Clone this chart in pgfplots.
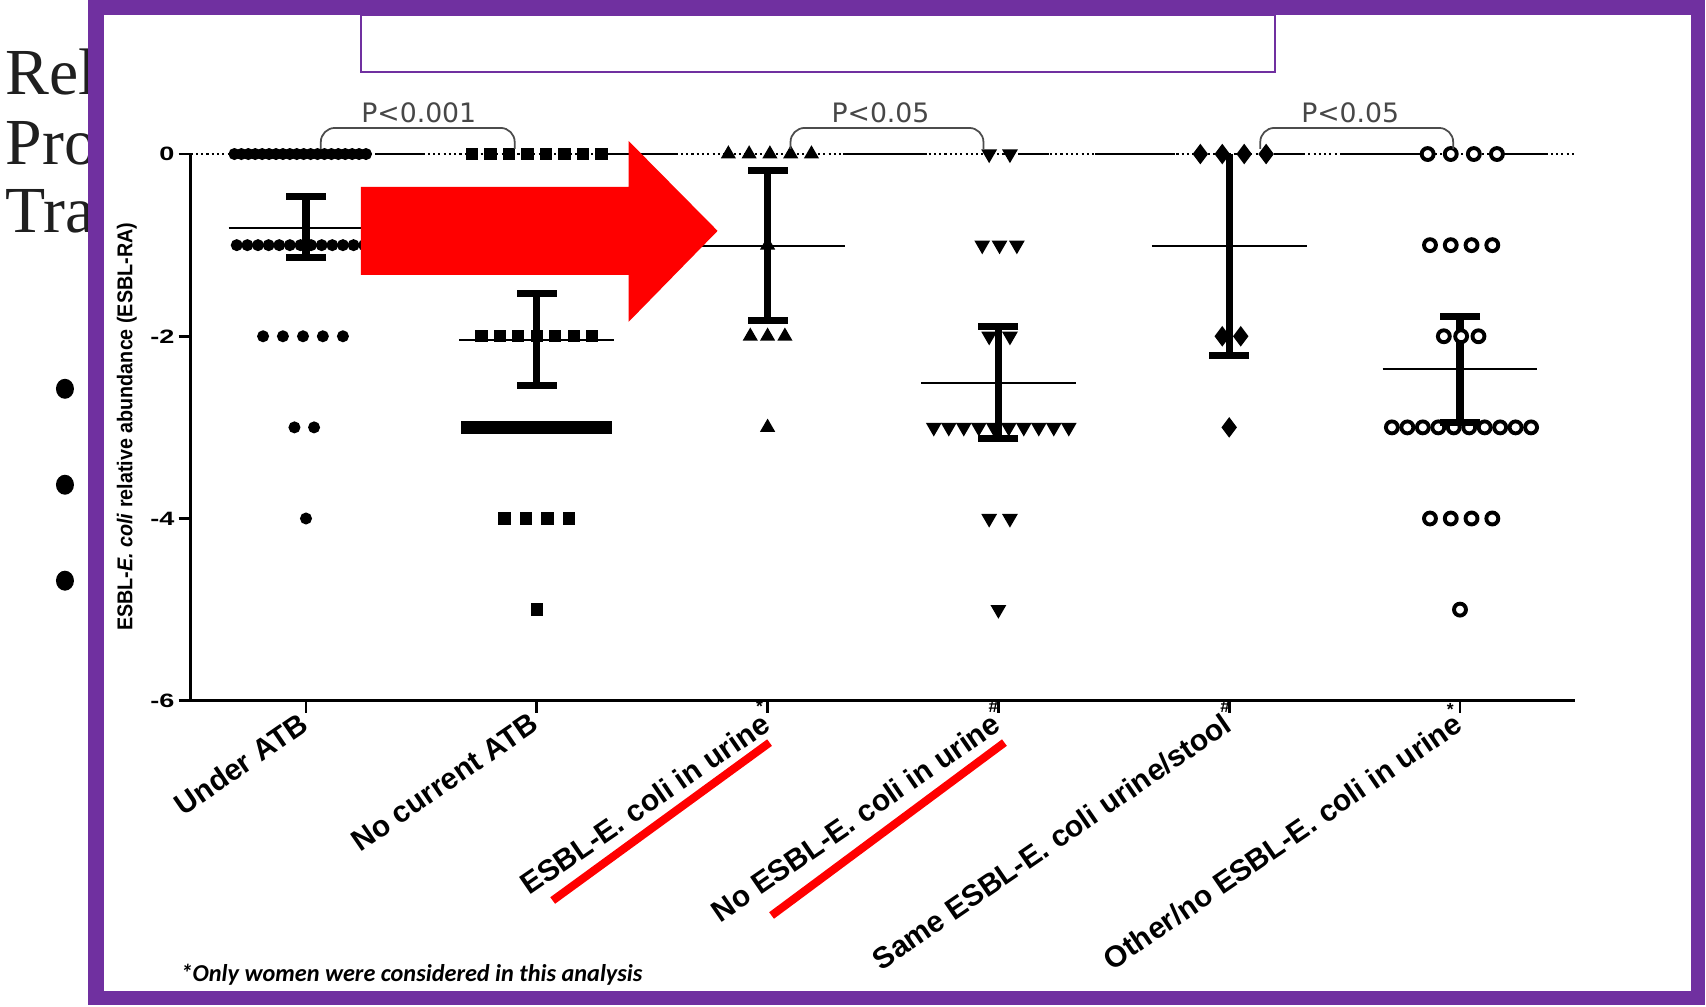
\documentclass[border=0pt]{standalone}
\usepackage{pgfplots}
\pgfplotsset{compat=1.18}
\usepackage{fontspec}
\setmainfont{Liberation Sans}
\newfontfamily\seriffont{Liberation Serif}
\newfontfamily\dvs{DejaVu Sans}
\newfontfamily\carlito{Carlito}
\definecolor{framepurple}{RGB}{112,48,160}
\definecolor{arrowred}{RGB}{255,0,0}
\newcommand\fs[1]{\fontsize{#1}{#1}\selectfont}
\newcommand\tl[1]{\scalebox{1.4}[1]{\bfseries\fs{5.5}#1}}
\begin{document}
\begin{tikzpicture}
\begin{scope}[x=0.01cm,y=-0.01cm]
\fill[white] (0,0) rectangle (1706,1006);
\node[anchor=base west, inner sep=0, font=\seriffont\fs{18.7}, text=black!88] at (5,95) {Rel};
\node[anchor=base west, inner sep=0, font=\seriffont\fs{18.7}, text=black!88] at (5,165) {Pro};
\node[anchor=base west, inner sep=0, font=\seriffont\fs{18.7}, text=black!88] at (5,233) {Tra};
\fill[black] (65,389) ellipse [x radius=9, y radius=10];
\fill[black] (65,485) ellipse [x radius=9, y radius=10];
\fill[black] (65,581) ellipse [x radius=9, y radius=10];
\fill[framepurple] (88,0) rectangle (1706,1006);
\fill[white] (104,15) rectangle (1692,992);
\node[rotate=90, font=\fs{6.1}] at (127,427) {\scalebox{0.92}[1]{\bfseries ESBL-\textit{E. coli} relative abundance (ESBL-RA)}};
\end{scope}

\begin{axis}[
  at={(1.906cm,-7.007cm)}, anchor=south west,
  scale only axis, width=13.848cm, height=5.467cm,
  xmin=-0.5, xmax=5.5, ymin=-6, ymax=0,
  clip=false,
  axis lines=left, axis line style={-, line width=0.85pt},
  tick align=outside, major tick length=0.12cm,
  tick style={line width=0.8pt, black},
  xtick={0,1,2,3,4,5},
  xticklabels={Under ATB,No current ATB,ESBL-E. coli in urine,No ESBL-E. coli in urine,Same ESBL-E. coli urine/stool,Other/no ESBL-E. coli in urine},
  xticklabel style={xshift=-0.07cm, yshift=0.07cm, rotate=34.5, anchor=north east, font=\bfseries\fs{8.5}, inner sep=1pt},
  ytick={-6,-4,-2,0},
  yticklabels={\tl{-6},\tl{-4},\tl{-2},\tl{0}},
  yticklabel style={inner sep=1pt},
]
% reference line at 0
\addplot[black, line width=0.4pt, dash pattern=on 0.6pt off 0.9pt] coordinates {(-0.5,0) (5.5,0)};
\addplot[black, line width=0.6pt] coordinates {(0.299,0) (0.516,0)};
\addplot[black, line width=0.6pt] coordinates {(1.304,0) (1.612,0)};
\addplot[black, line width=0.6pt] coordinates {(2.327,0) (2.691,0)};
\addplot[black, line width=0.6pt] coordinates {(3.089,0) (3.219,0)};
\addplot[black, line width=0.6pt] coordinates {(3.419,0) (3.765,0)};
\addplot[black, line width=0.6pt] coordinates {(4.194,0) (4.324,0)};
\addplot[black, line width=0.6pt] coordinates {(4.484,0) (4.831,0)};
\addplot[black, line width=0.6pt] coordinates {(5.191,0) (5.377,0)};
% Under ATB
\addplot[only marks, mark=*, mark size=1.5pt, black] coordinates {
(-0.31,0)(-0.28,0)(-0.25,0)(-0.22,0)(-0.19,0)(-0.16,0)(-0.13,0)(-0.10,0)(-0.07,0)(-0.04,0)
(-0.01,0)(0.02,0)(0.05,0)(0.08,0)(0.11,0)(0.14,0)(0.17,0)(0.20,0)(0.23,0)(0.26,0)
(-0.30,-1)(-0.254,-1)(-0.208,-1)(-0.162,-1)(-0.116,-1)(-0.07,-1)(-0.024,-1)(0.022,-1)(0.068,-1)(0.114,-1)(0.16,-1)(0.206,-1)(0.252,-1)(0.298,-1)
(-0.186,-2)(-0.1,-2)(-0.013,-2)(0.073,-2)(0.16,-2)
(-0.05,-3)(0.035,-3)
(0,-4)};
% No current ATB
\addplot[only marks, mark=square*, mark size=1.55pt, black] coordinates {
(0.72,0)(0.80,0)(0.88,0)(0.96,0)(1.04,0)(1.12,0)(1.20,0)(1.28,0)
(0.76,-2)(0.84,-2)(0.92,-2)(1.0,-2)(1.08,-2)(1.16,-2)(1.24,-2)
(0.70,-3)(0.74,-3)(0.78,-3)(0.82,-3)(0.86,-3)(0.90,-3)(0.94,-3)(0.98,-3)(1.02,-3)(1.06,-3)(1.10,-3)(1.14,-3)(1.18,-3)(1.22,-3)(1.26,-3)(1.30,-3)
(0.86,-4)(0.953,-4)(1.047,-4)(1.14,-4)
(1.0,-5)};
% ESBL in urine
\addplot[only marks, mark=triangle*, mark size=2.1pt, black] coordinates {
(1.83,0)(1.92,0)(2.01,0)(2.10,0)(2.19,0)
(2.0,-1)
(1.925,-2)(2.0,-2)(2.075,-2)
(2.0,-3)};
% No ESBL in urine
\addplot[only marks, mark=triangle*, mark size=2.2pt, black, mark options={rotate=180}] coordinates {
(2.96,0)(3.05,0)
(2.93,-1)(3.005,-1)(3.08,-1)
(2.96,-2)(3.05,-2)
(2.72,-3)(2.785,-3)(2.85,-3)(2.915,-3)(2.98,-3)(3.045,-3)(3.11,-3)(3.175,-3)(3.24,-3)(3.305,-3)
(2.96,-4)(3.05,-4)
(3.0,-5)};
% Same ESBL urine/stool
\addplot[only marks, mark=diamond*, mark size=2.6pt, black] coordinates {
(3.875,0)(3.97,0)(4.065,0)(4.16,0)
(3.97,-2)(4.05,-2)
(4.0,-3)};
% Other/no ESBL
\addplot[only marks, mark=*, mark size=1.7pt, mark options={fill=white, draw=black, line width=1.1pt}] coordinates {
(4.86,0)(4.96,0)(5.06,0)(5.16,0)
(4.87,-1)(4.96,-1)(5.05,-1)(5.14,-1)
(4.93,-2)(5.005,-2)(5.08,-2)
(4.705,-3)(4.772,-3)(4.839,-3)(4.906,-3)(4.973,-3)(5.04,-3)(5.107,-3)(5.174,-3)(5.241,-3)(5.308,-3)
(4.87,-4)(4.96,-4)(5.05,-4)(5.14,-4)
(5.0,-5)};
% mean lines
\addplot[black, line width=0.6pt] coordinates {(-0.335,-0.81) (0.335,-0.81)};
\addplot[black, line width=0.6pt] coordinates {(0.665,-2.04) (1.335,-2.04)};
\addplot[black, line width=0.6pt] coordinates {(1.665,-1.01) (2.335,-1.01)};
\addplot[black, line width=0.6pt] coordinates {(2.665,-2.51) (3.335,-2.51)};
\addplot[black, line width=0.6pt] coordinates {(3.665,-1.01) (4.335,-1.01)};
\addplot[black, line width=0.6pt] coordinates {(4.665,-2.36) (5.335,-2.36)};
% error bars
\addplot[black, line width=2pt] coordinates {(0,-0.47) (0,-1.14)};
\addplot[black, line width=2pt] coordinates {(1,-1.53) (1,-2.54)};
\addplot[black, line width=2pt] coordinates {(2,-0.185) (2,-1.83)};
\addplot[black, line width=2pt] coordinates {(3,-1.89) (3,-3.12)};
\addplot[black, line width=2pt] coordinates {(4,0) (4,-2.215)};
\addplot[black, line width=2pt] coordinates {(5,-1.785) (5,-2.95)};
\addplot[only marks, mark=-, mark size=5.7pt, black, mark options={line width=2pt}] coordinates {
(0,-0.47)(0,-1.14)(1,-1.53)(1,-2.54)(2,-0.185)(2,-1.83)(3,-1.89)(3,-3.12)(4,-2.215)(5,-1.785)(5,-2.95)};
\end{axis}

\begin{scope}[x=0.01cm,y=-0.01cm]
% p-value brackets
\draw[black!70, line width=0.5pt, rounded corners=4pt] (321,149) -- (321,128) -- (515,128) -- (515,149);
\draw[black!70, line width=0.5pt, rounded corners=4pt] (791,149) -- (791,128) -- (984,128) -- (984,149);
\draw[black!70, line width=0.5pt, rounded corners=4pt] (1261,149) -- (1261,128) -- (1454,128) -- (1454,149);
\node[font=\dvs\fs{7.6}, text=black!72] at (419,113) {P<0.001};
\node[font=\dvs\fs{7.6}, text=black!72] at (881,113) {P<0.05};
\node[font=\dvs\fs{7.6}, text=black!72] at (1351,113) {P<0.05};
% tick annotations
\node[font=\bfseries\fs{5}, inner sep=0] at (760,707) {*};
\node[font=\bfseries\fs{5}, inner sep=0] at (994,707) {\#};
\node[font=\bfseries\fs{5}, inner sep=0] at (1226,707) {\#};
\node[font=\bfseries\fs{5}, inner sep=0] at (1451,710) {*};
% red arrow and underlines
\fill[arrowred] (361,187) -- (629,187) -- (629,141) -- (718,231) -- (629,322) -- (629,275) -- (361,275) -- cycle;
\draw[arrowred, line width=2.3pt] (553,901) -- (770,743);
\draw[arrowred, line width=2.3pt] (772,916) -- (1005,743);
% empty title box
\filldraw[fill=white, draw=framepurple, line width=0.6pt] (361,15) rectangle (1276,72);
% footnote
\node[anchor=west, inner sep=0, font=\carlito\bfseries\itshape\fs{6.9}] at (180,975) {*Only women were considered in this analysis};
\end{scope}
\pgfresetboundingbox
\path[use as bounding box] (0,0) rectangle (17.06,-10.06);
\end{tikzpicture}
\end{document}
